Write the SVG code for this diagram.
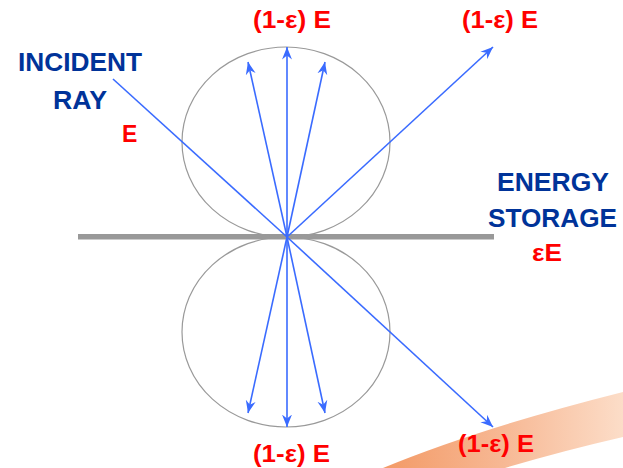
<svg xmlns="http://www.w3.org/2000/svg" width="623" height="468" viewBox="0 0 623 468">
<defs>
<linearGradient id="swoosh" x1="383" y1="0" x2="623" y2="0" gradientUnits="userSpaceOnUse">
<stop offset="0" stop-color="#F39A66"/>
<stop offset="0.5" stop-color="#F7B894"/>
<stop offset="1" stop-color="#FCDDC8"/>
</linearGradient>
<marker id="ah" viewBox="0 0 13 11" refX="12.5" refY="5.5" markerWidth="13" markerHeight="11" markerUnits="userSpaceOnUse" orient="auto">
<path d="M0,0.5 L12.5,5.5 L0,10.5 L4,5.5 Z" fill="#3A6BFF"/>
</marker>
<style>
.lobe{fill:none;stroke:#999;stroke-width:1.2}
.ray{stroke:#3A6BFF;stroke-width:1.6;fill:none}
.red{font-family:"Liberation Sans",Arial,sans-serif;font-weight:bold;font-size:23px;fill:#FF0000}
.blue{font-family:"Liberation Sans",Arial,sans-serif;font-weight:bold;font-size:26px;fill:#003399}
</style>
</defs>
<rect width="623" height="468" fill="#fff"/>
<path id="decor" d="M383,468 Q480,428 623,392 L623,437 Q562,451 505,468 Z" fill="url(#swoosh)"/>
<g id="surface"><rect x="78" y="234" width="416" height="5.5" fill="#999"/></g>
<g id="lobes">
<ellipse class="lobe" cx="286" cy="142" rx="104" ry="95"/>
<ellipse class="lobe" cx="286" cy="332" rx="104" ry="95"/>
</g>
<g id="connectors">
<line class="ray" x1="113" y1="79" x2="287" y2="237"/>
<line class="ray" x1="287" y1="237" x2="287" y2="47" marker-end="url(#ah)"/>
<line class="ray" x1="287" y1="237" x2="248" y2="62" marker-end="url(#ah)"/>
<line class="ray" x1="287" y1="237" x2="325" y2="62" marker-end="url(#ah)"/>
<line class="ray" x1="287" y1="237" x2="493" y2="47" marker-end="url(#ah)"/>
<line class="ray" x1="287" y1="237" x2="287" y2="427" marker-end="url(#ah)"/>
<line class="ray" x1="287" y1="237" x2="248" y2="413" marker-end="url(#ah)"/>
<line class="ray" x1="287" y1="237" x2="325" y2="413" marker-end="url(#ah)"/>
<line class="ray" x1="287" y1="237" x2="493" y2="427" marker-end="url(#ah)"/>
</g>
<g id="incident">
<text class="blue" x="18" y="71" textLength="124" lengthAdjust="spacingAndGlyphs">INCIDENT</text>
<text class="blue" x="53" y="109" textLength="54" lengthAdjust="spacingAndGlyphs">RAY</text>
<text class="red" x="122" y="142">E</text>
</g>
<g id="storage">
<text class="blue" x="497" y="191" textLength="112" lengthAdjust="spacingAndGlyphs">ENERGY</text>
<text class="blue" x="488" y="227" textLength="129" lengthAdjust="spacingAndGlyphs">STORAGE</text>
<text class="red" x="532" y="261" textLength="30" lengthAdjust="spacingAndGlyphs">εE</text>
</g>
<g id="labels">
<text class="red" x="253" y="28" textLength="78" lengthAdjust="spacingAndGlyphs">(1-ε) E</text>
<text class="red" x="462" y="28" textLength="76" lengthAdjust="spacingAndGlyphs">(1-ε) E</text>
<text class="red" x="253" y="462" textLength="77" lengthAdjust="spacingAndGlyphs">(1-ε) E</text>
<text class="red" x="458" y="452" textLength="76" lengthAdjust="spacingAndGlyphs">(1-ε) E</text>
</g>
</svg>
